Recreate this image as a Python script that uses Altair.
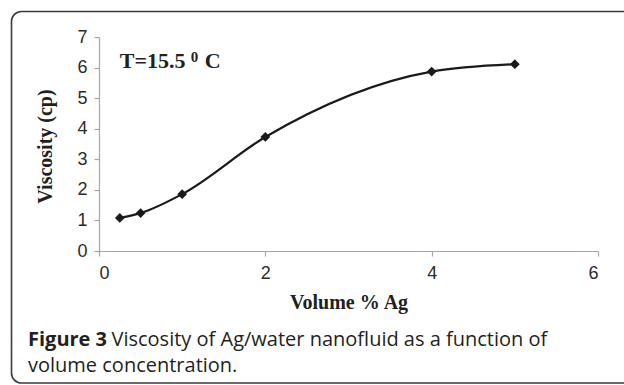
import altair as alt
import pandas as pd

volume = [0.25, 0.5, 1.0, 2.0, 4.0, 5.0]
viscosity = [1.08, 1.24, 1.86, 3.73, 5.87, 6.11]

x_ticks = [0, 2, 4, 6]
y_ticks = [0, 1, 2, 3, 4, 5, 6, 7]

annot_main = "T=15.5"
annot_sup = "0"
annot_unit = "C"
cap_bold = "Figure 3"
cap_line1 = "Viscosity of Ag/water nanofluid as a function of"
cap_line2 = "volume concentration."

df = pd.DataFrame({"vol": volume, "visc": viscosity})

W, H = 499, 214
TXT = "#231f20"
AX = "#a6a6a6"

x_enc = alt.X("vol:Q", scale=alt.Scale(domain=[0, 6], nice=False),
              axis=alt.Axis(values=x_ticks, format="d", title="Volume % Ag",
                            labelPadding=8, titleY=57))
y_enc = alt.Y("visc:Q", scale=alt.Scale(domain=[0, 7], nice=False),
              axis=alt.Axis(values=y_ticks, format="d", title="Viscosity (cp)",
                            labelPadding=7, titleX=-48, titleY=109, titleAngle=270))

base = alt.Chart(df)
line = base.mark_line(interpolate="monotone", color="#1a1a1a", strokeWidth=2.2).encode(x=x_enc, y=y_enc)
pts = base.mark_point(shape="diamond", filled=True, size=95, color="#1a1a1a", opacity=1).encode(
    x=x_enc, y=y_enc)

one = alt.Data(values=[{"a": 0}])

def txt(text, x, y, size, font, weight="normal", color=TXT):
    return alt.Chart(one).mark_text(text=text, align="left", baseline="alphabetic",
                                    font=font, fontSize=size, fontWeight=weight,
                                    color=color).encode(x=alt.value(x), y=alt.value(y))

annot_df = pd.DataFrame({"vol": [0.25], "visc": [6.0]})
annot = alt.Chart(annot_df)
a1 = annot.mark_text(text=annot_main, align="left", baseline="alphabetic",
                     font="Liberation Serif", fontWeight="bold", fontSize=22,
                     color=TXT).encode(x=x_enc, y=y_enc)
a2 = annot.mark_text(text=annot_sup, align="left", baseline="alphabetic",
                     font="Liberation Serif", fontWeight="bold", fontSize=15,
                     color=TXT, dx=71, dy=-6).encode(x=x_enc, y=y_enc)
a3 = annot.mark_text(text=annot_unit, align="left", baseline="alphabetic",
                     font="Liberation Serif", fontWeight="bold", fontSize=22,
                     color=TXT, dx=85).encode(x=x_enc, y=y_enc)

frame = alt.Chart(one).mark_rect(fill=None, stroke="#3a3a3a", strokeWidth=1.6, cornerRadius=10,
                                 clip=False).encode(
    x=alt.value(-87.5), x2=alt.value(560), y=alt.value(-25.5), y2=alt.value(346))

c1 = txt(cap_bold, -71, 309, 20, "Open Sans", weight="bold")
c2 = txt(cap_line1, 12.5, 309, 20, "Open Sans")
c3 = txt(cap_line2, -71, 334.7, 20, "Open Sans")

chart = alt.layer(frame, line, pts, a1, a2, a3, c1, c2, c3).properties(
    width=W, height=H,
    padding={"left": 99, "top": 37, "right": 26, "bottom": 134},
    autosize=alt.AutoSizeParams(type="none"),
    background="white",
).configure_view(stroke=None).configure_axis(
    grid=False, domainColor=AX, tickColor=AX, tickSize=5, domainWidth=1.2, tickWidth=1.2,
    labelFont="Liberation Sans", labelFontSize=18, labelColor="#2b2b2b",
    titleFont="Liberation Serif", titleFontWeight="bold", titleFontSize=20,
    titleColor=TXT, titleBaseline="alphabetic",
)

chart.save("out.html", embed_options={"renderer": "svg", "actions": False})
